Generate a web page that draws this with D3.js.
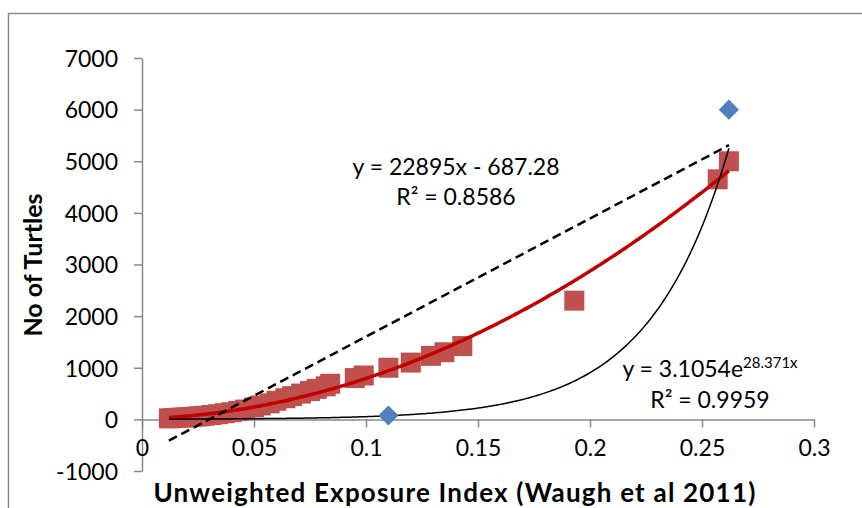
<!DOCTYPE html>
<html>
<head>
<meta charset="utf-8">
<script src="https://cdn.jsdelivr.net/npm/d3@7"></script>
<style>
  body { margin: 0; background: #fff; }
  text { font-family: Lato, "Open Sans", sans-serif; fill: #000; }
</style>
</head>
<body>
<div id="chart"></div>
<script>
// squares (counted turtles)
var squareX = [0.012, 0.014, 0.016, 0.018, 0.020, 0.022, 0.024, 0.026, 0.028, 0.031,
               0.034, 0.037, 0.040, 0.043, 0.046, 0.050, 0.053, 0.057, 0.060, 0.064,
               0.067, 0.071, 0.075, 0.078, 0.082, 0.084, 0.095, 0.099, 0.110, 0.120,
               0.129, 0.135, 0.143, 0.193, 0.257, 0.262];
var squareY = [20, 25, 30, 35, 40, 45, 55, 60, 70, 85,
               100, 120, 140, 165, 190, 230, 270, 310, 360, 410,
               450, 500, 550, 590, 640, 690, 800, 850, 1000, 1100,
               1230, 1300, 1420, 2300, 4650, 5000];
// diamonds
var diamondX = [0.110, 0.262];
var diamondY = [75, 6000];

var xTicks = [0, 0.05, 0.1, 0.15, 0.2, 0.25, 0.3];
var xTickLabels = ["0", "0.05", "0.1", "0.15", "0.2", "0.25", "0.3"];
var yTicks = [-1000, 0, 1000, 2000, 3000, 4000, 5000, 6000, 7000];

// trendline equations shown on the chart
var linA = 22895, linB = -687.28;
var expA = 3.1054, expB = 28.371;
var trendFrom = 0.012, trendTo = 0.262;

var width = 862, height = 508;
var svg = d3.select("#chart").append("svg")
    .attr("width", width)
    .attr("height", height);

svg.append("rect")
    .attr("x", 8.5).attr("y", 13.5)
    .attr("width", 900).attr("height", 600)
    .attr("fill", "none").attr("stroke", "#8c8c8c").attr("stroke-width", 1.5);

var x = d3.scaleLinear().domain([0, 0.3]).range([142, 814]);
var y = d3.scaleLinear().domain([-1000, 7000]).range([471, 58]);

var axisColor = "#888";

var yAxis = svg.append("g")
    .attr("transform", "translate(142,0)")
    .call(d3.axisLeft(y).tickValues(yTicks).tickSize(8).tickSizeOuter(0).tickPadding(16)
      .tickFormat(function(d) { return String(d); }));

var xAxis = svg.append("g")
    .attr("transform", "translate(0," + y(0) + ")")
    .call(d3.axisBottom(x).tickValues(xTicks).tickSize(8).tickSizeOuter(0).tickPadding(14)
      .tickFormat(function(d, i) { return xTickLabels[i]; }));

[xAxis, yAxis].forEach(function(a) {
  a.selectAll("path, line").attr("stroke", axisColor).attr("stroke-width", 1.5);
  a.selectAll("text").attr("font-size", 23).attr("fill", "#000")
    .attr("font-family", "Lato, sans-serif");
});
yAxis.selectAll("text").attr("dy", "0.36em");
xAxis.selectAll("text").attr("dy", "0.62em");

// least squares quadratic for the red trendline
function polyFit2(xs, ys) {
  var n = xs.length, s = [0, 0, 0, 0, 0], t = [0, 0, 0];
  for (var i = 0; i < n; i++) {
    var p = 1;
    for (var k = 0; k < 5; k++) { s[k] += p; if (k < 3) t[k] += p * ys[i]; p *= xs[i]; }
  }
  var m = [[s[0], s[1], s[2], t[0]], [s[1], s[2], s[3], t[1]], [s[2], s[3], s[4], t[2]]];
  for (var c = 0; c < 3; c++) {
    for (var r = c + 1; r < 3; r++) {
      var f = m[r][c] / m[c][c];
      for (var j = c; j < 4; j++) m[r][j] -= f * m[c][j];
    }
  }
  var b = [0, 0, 0];
  for (var r2 = 2; r2 >= 0; r2--) {
    var v = m[r2][3];
    for (var j2 = r2 + 1; j2 < 3; j2++) v -= m[r2][j2] * b[j2];
    b[r2] = v / m[r2][r2];
  }
  return b;
}
var quad = polyFit2(squareX, squareY);

var squares = squareX.map(function(d, i) { return { x: d, y: squareY[i] }; });
var diamonds = diamondX.map(function(d, i) { return { x: d, y: diamondY[i] }; });

svg.append("g").selectAll("path")
  .data(squares)
  .enter()
  .append("path")
    .attr("d", d3.symbol().type(d3.symbolSquare).size(400))
    .attr("transform", function(d) { return "translate(" + x(d.x) + "," + y(d.y) + ")"; })
    .attr("fill", "#c0504d");

var samples = d3.range(trendFrom, trendTo + 0.0001, 0.001);
var line = d3.line().x(function(d) { return x(d[0]); }).y(function(d) { return y(d[1]); });

svg.append("path")
    .attr("d", line(samples.map(function(v) { return [v, quad[0] + quad[1] * v + quad[2] * v * v]; })))
    .attr("fill", "none").attr("stroke", "#c00000").attr("stroke-width", 3.5);

svg.append("path")
    .attr("d", line([[trendFrom, linA * trendFrom + linB], [trendTo, linA * trendTo + linB]]))
    .attr("fill", "none").attr("stroke", "#000").attr("stroke-width", 2.5)
    .attr("stroke-dasharray", "9,5");

svg.append("path")
    .attr("d", line(samples.map(function(v) { return [v, expA * Math.exp(expB * v)]; })))
    .attr("fill", "none").attr("stroke", "#000").attr("stroke-width", 1.5);

svg.append("g").selectAll("path")
  .data(diamonds)
  .enter()
  .append("path")
    .attr("d", d3.symbol().type(d3.symbolDiamond2).size(260))
    .attr("transform", function(d) { return "translate(" + x(d.x) + "," + y(d.y) + ")"; })
    .attr("fill", "#4f81bd");

// trendline labels
var lab1 = svg.append("text").attr("text-anchor", "middle").attr("font-size", 23);
lab1.append("tspan").attr("x", 456).attr("y", 175).text("y = 22895x - 687.28");
lab1.append("tspan").attr("x", 456).attr("y", 205).text("R\u00b2 = 0.8586");

var lab2 = svg.append("text").attr("text-anchor", "middle").attr("font-size", 23);
lab2.append("tspan").attr("x", 710).attr("y", 377).text("y = 3.1054e");
lab2.append("tspan").attr("font-size", 15).attr("dy", -9).text("28.371x");
svg.append("text").attr("text-anchor", "middle").attr("font-size", 23)
    .attr("x", 710).attr("y", 408).text("R\u00b2 = 0.9959");

// axis titles
svg.append("text")
    .attr("text-anchor", "middle").attr("font-size", 25).attr("font-weight", "bold")
    .attr("transform", "translate(42,265) rotate(-90)")
    .text("No of Turtles");
svg.append("text")
    .attr("text-anchor", "middle").attr("font-size", 26).attr("font-weight", "bold")
    .attr("letter-spacing", 1.2)
    .attr("x", 455).attr("y", 502)
    .text("Unweighted Exposure Index (Waugh et al 2011)");
</script>
</body>
</html>
